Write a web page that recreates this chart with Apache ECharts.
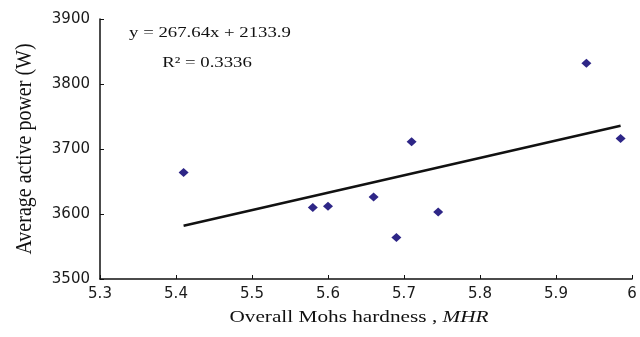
<!DOCTYPE html>
<html>
<head>
<meta charset="utf-8">
<script src="https://cdn.jsdelivr.net/npm/echarts@6/dist/echarts.min.js"></script>
<style>
  html, body { margin: 0; padding: 0; background: #fff; }
  #chart { width: 640px; height: 337px; }
</style>
</head>
<body>
<div id="chart"></div>
<script>
// Overall Mohs hardness (MHR) of each sample
const hardness = [5.41, 5.58, 5.60, 5.66, 5.69, 5.71, 5.745, 5.94, 5.985];
// Average active power (W) measured for each sample
const activePower = [3664, 3610, 3612, 3626, 3564, 3711, 3603, 3832, 3716];
// Linear fit reported on the chart
const fitSlope = 267.64;
const fitIntercept = 2133.9;
const fitR2 = '0.3336';
// Axis ranges and tick steps
const xRange = [5.3, 6.0, 0.1];
const yRange = [3500, 3900, 100];

const points = hardness.map((x, i) => [x, activePower[i]]);
const xMin = Math.min(...hardness);
const xMax = Math.max(...hardness);
const fitLine = [xMin, xMax].map(x => [x, fitSlope * x + fitIntercept]);

const serif = '"Liberation Serif", "Times New Roman", serif';
const sans = '"DejaVu Sans", "Liberation Sans", Arial, sans-serif';
const stretch = 1.25;

const chart = echarts.init(document.getElementById('chart'));
chart.setOption({
  animation: false,
  backgroundColor: '#fff',
  grid: { left: 100, right: 8, top: 19, bottom: 58, containLabel: false },
  xAxis: {
    type: 'value',
    min: xRange[0], max: xRange[1], interval: xRange[2],
    axisLine: { show: true, onZero: false, lineStyle: { color: '#111', width: 1.5 } },
    axisTick: { show: true, inside: true, length: 4, lineStyle: { color: '#111', width: 1 } },
    axisLabel: { color: '#1a1a1a', fontFamily: sans, fontSize: 15, margin: 8 },
    splitLine: { show: false }
  },
  yAxis: {
    type: 'value',
    min: yRange[0], max: yRange[1], interval: yRange[2],
    axisLine: { show: true, onZero: false, lineStyle: { color: '#111', width: 1.5 } },
    axisTick: { show: true, inside: true, length: 4, lineStyle: { color: '#111', width: 1 } },
    axisLabel: { color: '#1a1a1a', fontFamily: sans, fontSize: 15, margin: 10, formatter: v => String(v) },
    splitLine: { show: false }
  },
  series: [
    {
      type: 'line',
      data: fitLine,
      symbol: 'none',
      lineStyle: { color: '#111', width: 2.5 },
      z: 2
    },
    {
      type: 'scatter',
      data: points,
      symbol: 'diamond',
      symbolSize: [10, 9],
      itemStyle: { color: '#2e2687', opacity: 1 },
      z: 3
    }
  ],
  graphic: [
    {
      type: 'text', x: 210, y: 33, scaleX: stretch,
      style: {
        text: 'y = ' + fitSlope + 'x + ' + fitIntercept,
        font: '15px ' + serif, fill: '#111',
        textAlign: 'center', textVerticalAlign: 'middle'
      }
    },
    {
      type: 'text', x: 207, y: 63, scaleX: stretch,
      style: {
        text: 'R² = ' + fitR2,
        font: '15px ' + serif, fill: '#111',
        textAlign: 'center', textVerticalAlign: 'middle'
      }
    },
    {
      type: 'text', x: 359, y: 318, scaleX: stretch,
      style: {
        text: '{n|Overall Mohs hardness , }{i|MHR}',
        rich: {
          n: { fontSize: 17, fontFamily: serif, fill: '#111' },
          i: { fontSize: 17, fontFamily: serif, fontStyle: 'italic', fill: '#111' }
        },
        textAlign: 'center', textVerticalAlign: 'middle'
      }
    },
    {
      type: 'text', x: 25, y: 149, rotation: Math.PI / 2, scaleY: 1.15,
      style: {
        text: 'Average active power (W)',
        font: '20px ' + serif, fill: '#111',
        textAlign: 'center', textVerticalAlign: 'middle'
      }
    }
  ]
});
</script>
</body>
</html>
